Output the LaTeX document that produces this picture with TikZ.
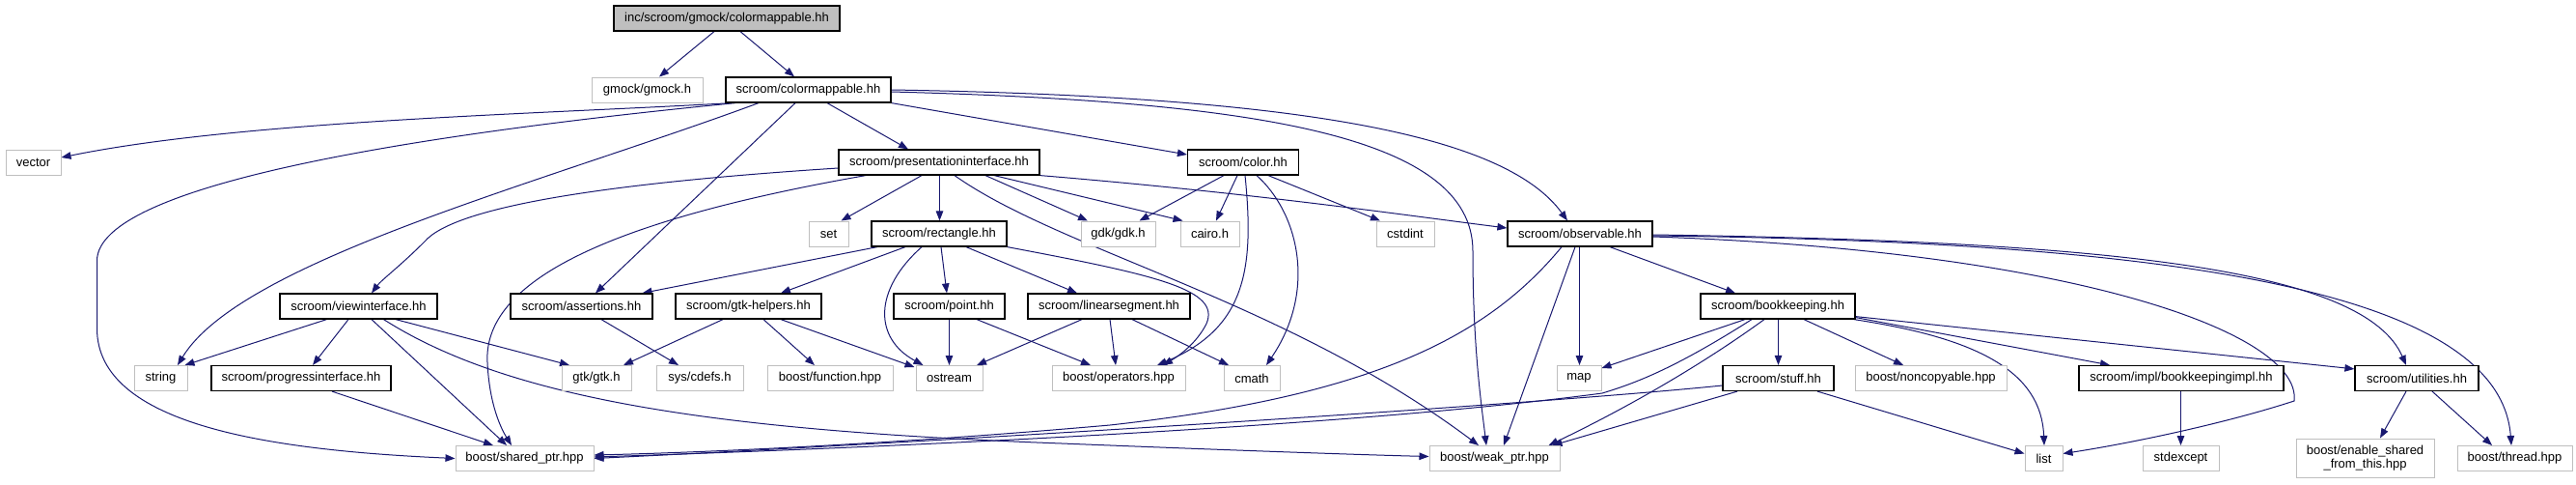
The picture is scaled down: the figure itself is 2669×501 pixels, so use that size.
\documentclass[tikz,border=0pt]{standalone}
\usepackage{fontspec}
\setmainfont{Liberation Sans}
\usetikzlibrary{arrows.meta}
\definecolor{edgec}{HTML}{191970}
\definecolor{graybd}{HTML}{BFBFBF}
\definecolor{rootfill}{HTML}{BFBFBF}
\pgfdeclarelayer{background}
\pgfsetlayers{background,main}
\tikzset{
  box/.style={rectangle, minimum height=26pt, inner sep=0pt, fill=white,
    font=\fontsize{13pt}{14pt}\selectfont},
  nb/.style={box, draw=black, line width=1.2pt},
  ng/.style={box, draw=graybd, line width=1pt},
  rootbox/.style={box, draw=black, fill=rootfill, line width=1.2pt},
  edge/.style={draw=edgec, line width=1pt, -{Triangle[length=10pt,width=7.5pt]}}
}
\begin{document}
\begin{tikzpicture}[x=1pt,y=-1pt]
\useasboundingbox (0,0) rectangle (2669,501);
% nodes
\node[rootbox, minimum width=234pt] (root) at (753,19) {inc/scroom/gmock/colormappable.hh};
\node[ng, minimum width=115pt] (gmock) at (670.5,93) {gmock/gmock.h};
\node[nb, minimum width=171pt] (cm) at (837.5,93) {scroom/colormappable.hh};
\node[ng, minimum width=57pt] (vector) at (34.5,168) {vector};
\node[nb, minimum width=208pt] (pres) at (973,168) {scroom/presentationinterface.hh};
\node[nb, minimum width=115pt] (color) at (1288,168) {scroom/color.hh};
\node[ng, minimum width=41pt] (set) at (858.5,242) {set};
\node[nb, minimum width=140pt] (rect) at (973,242) {scroom/rectangle.hh};
\node[ng, minimum width=77pt] (gdk) at (1158.5,242) {gdk/gdk.h};
\node[ng, minimum width=61pt] (cairo) at (1253.5,242) {cairo.h};
\node[ng, minimum width=60pt] (cstdint) at (1456,242) {cstdint};
\node[nb, minimum width=150pt] (obs) at (1637,242) {scroom/observable.hh};
\node[nb, minimum width=163pt] (view) at (371.5,317) {scroom/viewinterface.hh};
\node[nb, minimum width=147pt] (assert) at (602.5,317) {scroom/assertions.hh};
\node[nb, minimum width=151pt] (gtkh) at (775.5,317) {scroom/gtk-helpers.hh};
\node[nb, minimum width=115pt] (point) at (983.5,317) {scroom/point.hh};
\node[nb, minimum width=168pt] (lin) at (1149,317) {scroom/linearsegment.hh};
\node[nb, minimum width=160pt] (book) at (1842,317) {scroom/bookkeeping.hh};
\node[ng, minimum width=55pt] (string) at (166.5,391.5) {string};
\node[nb, minimum width=186pt] (prog) at (312,391.5) {scroom/progressinterface.hh};
\node[ng, minimum width=72pt] (gtk) at (618,391.5) {gtk/gtk.h};
\node[ng, minimum width=90pt] (cdefs) at (725,391.5) {sys/cdefs.h};
\node[ng, minimum width=130pt] (func) at (860,391.5) {boost/function.hpp};
\node[ng, minimum width=69pt] (ostream) at (983.5,391.5) {ostream};
\node[ng, minimum width=138pt] (ops) at (1159,391.5) {boost/operators.hpp};
\node[ng, minimum width=58pt] (cmath) at (1297,391.5) {cmath};
\node[ng, minimum width=46pt] (map) at (1636,391.5) {map};
\node[nb, minimum width=115pt] (stuff) at (1842.5,391.5) {scroom/stuff.hh};
\node[ng, minimum width=157pt] (noncopy) at (2000.5,391.5) {boost/noncopyable.hpp};
\node[nb, minimum width=212pt] (bkimpl) at (2260,391.5) {scroom/impl/bookkeepingimpl.hh};
\node[nb, minimum width=128pt] (util) at (2504,391.5) {scroom/utilities.hh};
\node[ng, minimum width=143pt] (shared) at (543.5,474.5) {boost/shared\_ptr.hpp};
\node[ng, minimum width=135pt] (weak) at (1548.5,474.5) {boost/weak\_ptr.hpp};
\node[ng, minimum width=39pt] (list) at (2117.5,474.5) {list};
\node[ng, minimum width=79pt] (stdexc) at (2259.5,474.5) {stdexcept};
\node[ng, minimum width=143pt, minimum height=40pt, align=center] (enable) at (2450.5,474) {boost/enable\_shared\\\_from\_this.hpp};
\node[ng, minimum width=119pt] (thread) at (2605.5,474.5) {boost/thread.hpp};
% edges
\begin{pgfonlayer}{background}
\fill[white] (0,0) rectangle (2669,501);
\draw[edge] ([xshift=-13pt]root.south) -- ([xshift=12.5pt]gmock.north);
\draw[edge] ([xshift=14pt]root.south) -- ([xshift=-14.5pt]cm.north);
% colormappable
\draw[edge] ([xshift=-79.5pt]cm.south) .. controls (560,118) and (250,125) .. ([yshift=5pt]vector.east);
\draw[edge] ([xshift=-75.5pt]cm.south) .. controls (440,138) and (100.5,190) .. (100.5,270) -- (100.5,340) .. controls (100.5,440) and (280,466) .. (shared.west);
\draw[edge] ([xshift=-51.5pt]cm.south) .. controls (560,190) and (250,270) .. ([xshift=17.5pt]string.north);
\draw[edge] ([xshift=-13.5pt]cm.south) -- ([xshift=14.5pt]assert.north);
\draw[edge] ([xshift=19.5pt]cm.south) -- ([xshift=-32pt]pres.north);
\draw[edge] (cm.south east) -- ([yshift=8pt]color.west);
\draw[edge] ([yshift=-2pt]cm.east) .. controls (1300,105) and (1526,140) .. (1526,260) .. controls (1526,360) and (1535,420) .. ([xshift=-8.5pt]weak.north);
\draw[edge] (cm.east) .. controls (1350,100) and (1560,140) .. ([xshift=-13pt]obs.north);
% presentationinterface
\draw[edge] ([yshift=-6pt]pres.west) .. controls (620,190) and (470,215) .. (440,250) .. controls (415,275) and (395,290) .. ([xshift=13.5pt]view.north);
\draw[edge] ([xshift=-76pt]pres.south) .. controls (650,225) and (500,285) .. (505,375) .. controls (507,420) and (520,445) .. ([xshift=-13.5pt]shared.north);
\draw[edge] ([xshift=-18pt]pres.south) -- ([xshift=13pt]set.north);
\draw[edge] ([xshift=0.5pt]pres.south) -- ([xshift=0.5pt]rect.north);
\draw[edge] ([xshift=48pt]pres.south) -- ([xshift=-31.5pt]gdk.north);
\draw[edge] ([xshift=57pt]pres.south) -- ([xshift=3pt]cairo.north west);
\draw[edge] (pres.south east) .. controls (1300,200) and (1450,222) .. ([yshift=6pt]obs.west);
\draw[edge] ([xshift=16pt]pres.south) .. controls (1100,260) and (1330,310) .. ([xshift=-16.5pt]weak.north);
% color
\draw[edge] ([xshift=-20pt]color.south) -- ([xshift=22pt]gdk.north);
\draw[edge] ([xshift=-6pt]color.south) -- ([xshift=6.5pt]cairo.north);
\draw[edge] ([xshift=26pt]color.south) -- ([xshift=-26pt]cstdint.north);
\draw[edge] ([xshift=2pt]color.south) .. controls (1300,280) and (1290,340) .. ([xshift=40pt]ops.north);
\draw[edge] ([xshift=14pt]color.south) .. controls (1345,220) and (1365,300) .. ([xshift=15pt]cmath.north);
% viewinterface
\draw[edge] ([xshift=-33pt]view.south) -- ([xshift=25pt]string.north);
\draw[edge] ([xshift=-10.5pt]view.south) -- ([xshift=12pt]prog.north);
\draw[edge] ([xshift=13.5pt]view.south) -- ([xshift=-18.5pt]shared.north);
\draw[edge] ([xshift=38.5pt]view.south) -- ([xshift=-28pt]gtk.north);
\draw[edge] ([xshift=26pt]view.south) .. controls (530,415) and (750,446) .. (1100,459) .. controls (1300,467) and (1420,471) .. ([yshift=2pt]weak.west);
\draw[edge] ([xshift=32pt]prog.south) -- ([xshift=-32.5pt]shared.north);
\draw[edge] ([xshift=20.5pt]assert.south) -- ([xshift=-22pt]cdefs.north);
% gtk-helpers
\draw[edge] ([xshift=-26.5pt]gtkh.south) -- ([xshift=28pt]gtk.north);
\draw[edge] ([xshift=15.5pt]gtkh.south) -- ([xshift=-16pt]func.north);
\draw[edge] ([xshift=33.5pt]gtkh.south) -- ([xshift=-1pt,yshift=-2pt]ostream.north west);
% rectangle
\draw[edge] ([xshift=-64pt]rect.south) -- ([xshift=63pt]assert.north);
\draw[edge] ([xshift=-35pt]rect.south) -- ([xshift=33.5pt]gtkh.north);
\draw[edge] ([xshift=-18pt]rect.south) .. controls (905,300) and (905,350) .. ([xshift=-27pt]ostream.north);
\draw[edge] ([xshift=2pt]rect.south) -- ([xshift=-2.5pt]point.north);
\draw[edge] ([xshift=28pt]rect.south) -- ([xshift=-33pt]lin.north);
\draw[edge] (rect.south east) .. controls (1200,285) and (1265,300) .. (1250,335) .. controls (1240,355) and (1222,368) .. ([xshift=46pt]ops.north);
\draw[edge] (point.south) -- (ostream.north);
\draw[edge] ([xshift=28.5pt]point.south) -- ([xshift=-29pt]ops.north);
\draw[edge] ([xshift=-28pt]lin.south) -- ([xshift=28.5pt]ostream.north);
\draw[edge] ([xshift=1pt]lin.south) -- ([xshift=-3pt]ops.north);
\draw[edge] ([xshift=24pt]lin.south) -- ([xshift=-24pt]cmath.north);
% observable
\draw[edge] ([xshift=-19pt]obs.south) .. controls (1540,350) and (1420,410) .. (1150,440) .. controls (900,462) and (700,469) .. ([yshift=3.5pt]shared.east);
\draw[edge] ([xshift=-5pt]obs.south) -- ([xshift=9.5pt]weak.north);
\draw[edge] ([xshift=-0.5pt]obs.south) -- ([xshift=0.5pt]map.north);
\draw[edge] ([xshift=31pt]obs.south) -- ([xshift=-44pt]book.north);
\draw[edge] ([yshift=-3pt]obs.east) .. controls (2150,260) and (2385,345) .. (2377,415) .. controls (2300,440) and (2200,460) .. ([yshift=5pt]list.east);
\draw[edge] ([yshift=-1pt]obs.east) .. controls (2200,250) and (2450,280) .. ([xshift=-11pt]util.north);
\draw[edge] ([yshift=-2pt]obs.east) .. controls (2250,250) and (2590,300) .. ([xshift=-3.5pt]thread.north);
% bookkeeping
\draw[edge] ([xshift=-34pt]book.south) -- ([yshift=-3pt]map.north east);
\draw[edge] ([xshift=-27pt]book.south) .. controls (1740,378) and (1700,395) .. (1660,407) .. controls (1400,442) and (900,464) .. ([yshift=1.5pt]shared.east);
\draw[edge] ([xshift=-14pt]book.south) .. controls (1760,380) and (1680,425) .. ([xshift=-12pt]weak.north east);
\draw[edge] ([xshift=0.5pt]book.south) -- (stuff.north);
\draw[edge] ([xshift=27pt]book.south) -- ([xshift=-28.5pt]noncopy.north);
\draw[edge] ([xshift=-2pt]book.south east) .. controls (2050,350) and (2115,385) .. ([xshift=0.5pt]list.north);
\draw[edge] ([yshift=2pt]book.south east) -- ([xshift=-74pt]bkimpl.north);
\draw[edge] ([yshift=3pt]book.south east) -- ([yshift=-4pt]util.north west);
% stuff
\draw[edge] ([xshift=40.5pt]stuff.south) -- ([yshift=5pt]list.west);
\draw[edge] ([yshift=-7.5pt]stuff.west) .. controls (1600,418) and (1000,456) .. (shared.east);
\draw[edge] ([xshift=-42.5pt]stuff.south) -- ([xshift=-8pt]weak.north east);
% others
\draw[edge] ([xshift=-0.5pt]bkimpl.south) -- (stdexc.north);
\draw[edge] ([xshift=-11pt]util.south) -- ([xshift=15.5pt]enable.north);
\draw[edge] ([xshift=16pt]util.south) -- ([xshift=-23.5pt]thread.north);
\end{pgfonlayer}
\end{tikzpicture}
\end{document}
